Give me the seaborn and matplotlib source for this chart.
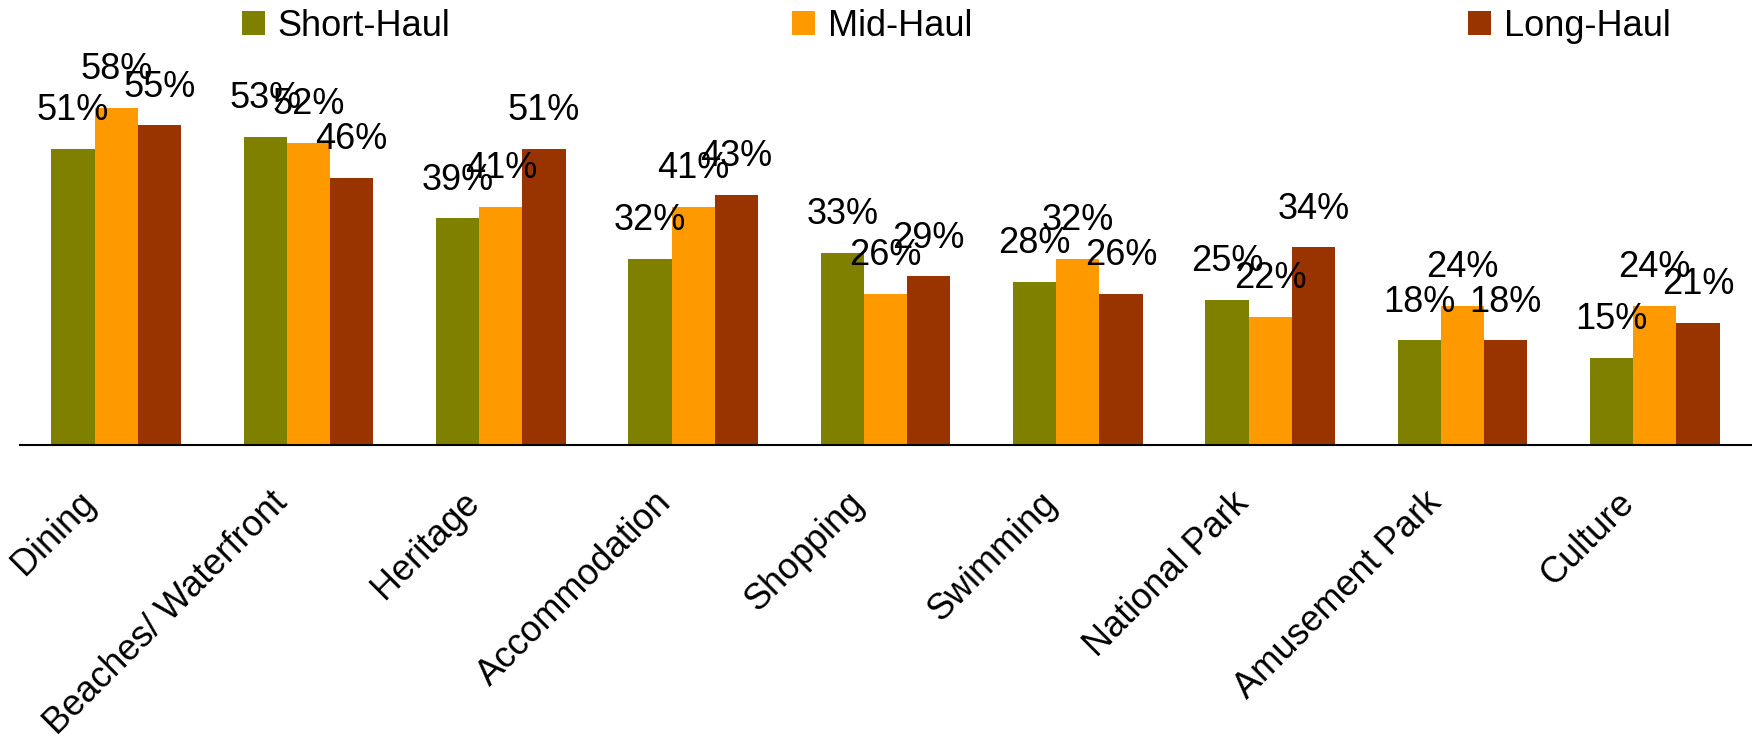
import matplotlib
matplotlib.use("Agg")
import matplotlib.pyplot as plt
import matplotlib.transforms as mtransforms
from matplotlib.patches import Patch
import pandas as pd
import seaborn as sns

# Share of visitors citing each activity, by travel distance segment (%)
categories = ["Dining", "Beaches/ Waterfront", "Heritage", "Accommodation",
              "Shopping", "Swimming", "National Park", "Amusement Park", "Culture"]
short_haul = [51, 53, 39, 32, 33, 28, 25, 18, 15]
mid_haul = [58, 52, 41, 41, 26, 32, 22, 24, 24]
long_haul = [55, 46, 51, 43, 29, 26, 34, 18, 21]
segments = ["Short-Haul", "Mid-Haul", "Long-Haul"]
colors = ["#808000", "#FF9900", "#993300"]

wide = pd.DataFrame({"Activity": categories,
                     "Short-Haul": short_haul,
                     "Mid-Haul": mid_haul,
                     "Long-Haul": long_haul})
df = wide.melt(id_vars="Activity", var_name="Segment", value_name="Share")

sns.set_theme(style="white")
plt.rcParams["font.family"] = ["Liberation Sans", "DejaVu Sans"]
FS = 26

fig = plt.figure(figsize=(17.52, 7.5), dpi=100)
ax = fig.add_axes([0.0114, 0.4067, 0.988, 0.4648])

sns.barplot(data=df, x="Activity", y="Share", hue="Segment",
            order=categories, hue_order=segments, palette=colors,
            saturation=1, width=0.674, gap=0, legend=False, ax=ax,
            errorbar=None, linewidth=0, edgecolor="none")

# value labels above each bar
for cont, vals in zip(ax.containers, [short_haul, mid_haul, long_haul]):
    ax.bar_label(cont, labels=[f"{v}%" for v in vals], padding=15,
                 fontsize=FS, color="black")

ax.set_ylim(0, 60)
ax.set_xlim(-0.5, len(categories) - 0.5)
ax.set_xlabel("")
ax.set_ylabel("")
ax.set_yticks([])
for side in ["top", "right", "left"]:
    ax.spines[side].set_visible(False)
ax.spines["bottom"].set_color("black")
ax.spines["bottom"].set_linewidth(1.5)

ax.set_xticks(range(len(categories)))
ax.set_xticklabels(categories, rotation=45, ha="right", va="top",
                   rotation_mode="anchor", fontsize=FS, color="black")
ax.tick_params(axis="x", length=0, pad=0)
offset = mtransforms.ScaledTranslation(-28 / 72, -29 / 72, fig.dpi_scale_trans)
for lbl in ax.get_xticklabels():
    lbl.set_transform(lbl.get_transform() + offset)

# legend entries spread across the top
legend_x = [242 / 1752, 792 / 1752, 1468 / 1752]
for name, col, lx in zip(segments, colors, legend_x):
    fig.legend(handles=[Patch(facecolor=col, edgecolor="none")],
               labels=[name], loc="center left",
               bbox_to_anchor=(lx, 0.9647), frameon=False,
               borderpad=0, borderaxespad=0, fontsize=FS,
               handlelength=0.64, handleheight=0.64, handletextpad=0.35,
               labelcolor="black")

fig.savefig("out.png", dpi=100, facecolor="white")
